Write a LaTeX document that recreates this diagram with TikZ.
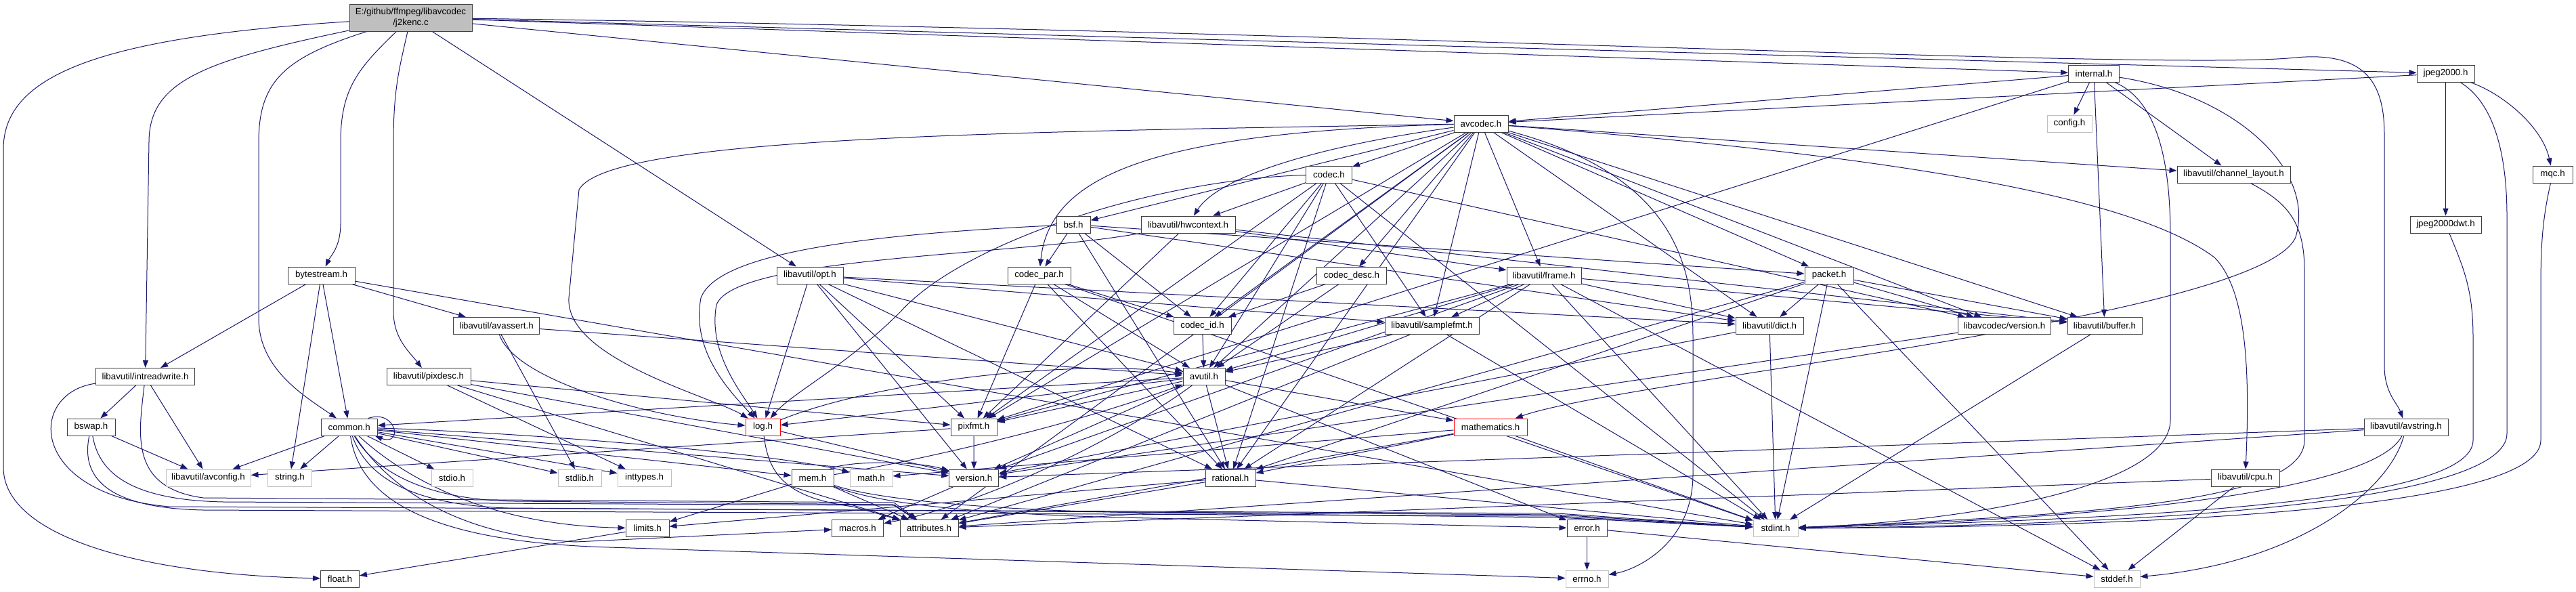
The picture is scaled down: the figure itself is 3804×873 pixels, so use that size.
\documentclass[tikz,border=0pt]{standalone}
\usepackage{fontspec}
\setmainfont{Liberation Sans}
\usetikzlibrary{arrows.meta}
\definecolor{edgeblue}{HTML}{191970}
\definecolor{boxline}{HTML}{404040}
\definecolor{graybox}{HTML}{BFBFBF}
\definecolor{rootfill}{HTML}{BFBFBF}
\newcommand{\lbl}{\fontsize{13.3pt}{15.5pt}\selectfont}
\pgfdeclarelayer{bgl}
\pgfdeclarelayer{edges}
\pgfsetlayers{bgl,edges,main}
\tikzset{
  nb/.style={rectangle, draw=boxline, line width=1pt, fill=white, minimum height=25pt, inner sep=0pt, font=\lbl, text=black},
  ng/.style={nb, draw=graybox},
  nr/.style={nb, draw=red},
  arr/.style={draw=edgeblue, line width=1pt, -{Triangle[length=11pt,width=8pt]}},
}
\begin{document}
\begin{tikzpicture}[x=1pt,y=1pt]
\useasboundingbox (0,0) rectangle (3804,-873);
\begin{pgfonlayer}{bgl}
\fill[white] (0,0) rectangle (3804,-873);
\end{pgfonlayer}
% ---------- nodes ----------
\node[nb,fill=rootfill,minimum width=181pt,minimum height=40pt,align=center] (root) at (606.5,-26) {E:/github/ffmpeg/libavcodec\\/j2kenc.c};
\node[nb,minimum width=75pt] (internal) at (3092,-108.5) {internal.h};
\node[nb,minimum width=85pt] (jp2k) at (3611.5,-108.5) {jpeg2000.h};
\node[nb,minimum width=80pt] (avcodec) at (2187,-182.5) {avcodec.h};
\node[ng,minimum width=66pt] (config) at (3056,-182.5) {config.h};
\node[nb,minimum width=68pt] (codec) at (1962.5,-257.5) {codec.h};
\node[nb,minimum width=167pt] (chlayout) at (3298.5,-257.5) {libavutil/channel\_layout.h};
\node[nb,minimum width=59pt] (mqc) at (3769.5,-257.5) {mqc.h};
\node[nb,minimum width=50pt] (bsf) at (1585,-331.5) {bsf.h};
\node[nb,minimum width=139pt] (hwctx) at (1754.5,-331.5) {libavutil/hwcontext.h};
\node[nb,minimum width=105pt] (dwt) at (3611.5,-331.5) {jpeg2000dwt.h};
\node[nb,minimum width=99pt] (bytestream) at (474.5,-406.5) {bytestream.h};
\node[nb,minimum width=98pt] (opt) at (1196,-406.5) {libavutil/opt.h};
\node[nb,minimum width=93pt] (codecpar) at (1534.5,-406.5) {codec\_par.h};
\node[nb,minimum width=103pt] (codecdesc) at (1996,-406.5) {codec\_desc.h};
\node[nb,minimum width=110pt] (frame) at (2280,-406.5) {libavutil/frame.h};
\node[nb,minimum width=72pt] (packet) at (2701,-406.5) {packet.h};
\node[nb,minimum width=127pt] (avassert) at (733,-481) {libavutil/avassert.h};
\node[nb,minimum width=85pt] (codecid) at (1775.5,-481) {codec\_id.h};
\node[nb,minimum width=139pt] (samplefmt) at (2114.5,-481) {libavutil/samplefmt.h};
\node[nb,minimum width=100pt] (dict) at (2613,-481) {libavutil/dict.h};
\node[nb,minimum width=137pt] (lavcver) at (2960,-481) {libavcodec/version.h};
\node[nb,minimum width=110pt] (buffer) at (3108,-481) {libavutil/buffer.h};
\node[nb,minimum width=146pt] (intrw) at (214.5,-556) {libavutil/intreadwrite.h};
\node[nb,minimum width=124pt] (pixdesc) at (633,-556) {libavutil/pixdesc.h};
\node[nb,minimum width=62pt] (avutil) at (1778,-556) {avutil.h};
\node[nb,minimum width=71pt] (bswap) at (134.5,-630.5) {bswap.h};
\node[nb,minimum width=83pt] (common) at (515.7,-630.5) {common.h};
\node[nr,minimum width=51pt] (log) at (1126.5,-630.5) {log.h};
\node[nb,minimum width=68pt] (pixfmt) at (1438,-630.5) {pixfmt.h};
\node[nr,minimum width=108pt] (mathem) at (2201,-630.5) {mathematics.h};
\node[nb,minimum width=124pt] (avstring) at (3553,-630.5) {libavutil/avstring.h};
\node[ng,minimum width=125pt] (avconfig) at (307.5,-705.5) {libavutil/avconfig.h};
\node[ng,minimum width=65pt] (string) at (428,-705.5) {string.h};
\node[ng,minimum width=61pt] (stdio) at (667.5,-705.5) {stdio.h};
\node[ng,minimum width=64pt] (stdlib) at (856,-705.5) {stdlib.h};
\node[ng,minimum width=79pt] (inttypes) at (951.5,-705.5) {inttypes.h};
\node[nb,minimum width=62pt] (mem) at (1200,-705.5) {mem.h};
\node[ng,minimum width=63pt] (math) at (1286.5,-705.5) {math.h};
\node[nb,minimum width=73pt] (version) at (1438.3,-705.5) {version.h};
\node[nb,minimum width=74pt] (rational) at (1817,-705.5) {rational.h};
\node[nb,minimum width=101pt] (cpu) at (3315.5,-705.5) {libavutil/cpu.h};
\node[nb,minimum width=64pt] (limits) at (956,-780) {limits.h};
\node[nb,minimum width=76pt] (macros) at (1266.5,-780) {macros.h};
\node[nb,minimum width=86pt] (attributes) at (1372,-780) {attributes.h};
\node[nb,minimum width=59pt] (error) at (2343.5,-780) {error.h};
\node[ng,minimum width=66pt] (stdint) at (2622,-780) {stdint.h};
\node[nb,minimum width=57pt] (float) at (502,-854.5) {float.h};
\node[ng,minimum width=63pt] (errno) at (2343.5,-854.5) {errno.h};
\node[ng,minimum width=68pt] (stddef) at (3126,-854.5) {stddef.h};
% ---------- edges ----------
\begin{pgfonlayer}{edges}
% root
\draw[arr] (root) .. controls (150,-55) and (5,-110) .. (5,-220) -- (5,-690) .. controls (5,-790) and (200,-848) .. (float);
\draw[arr] (root) .. controls (300,-90) and (220,-120) .. (220,-210) -- (intrw);
\draw[arr] (root) .. controls (420,-85) and (382,-120) .. (382,-210) -- (382,-470) .. controls (382,-545) and (450,-585) .. (common);
\draw[arr] (root) .. controls (530,-100) and (503,-130) .. (503,-210) -- (503,-330) .. controls (503,-365) and (488,-378) .. (bytestream);
\draw[arr] (root) .. controls (590,-100) and (581,-130) .. (581,-210) -- (581,-460) .. controls (581,-500) and (605,-520) .. (pixdesc);
\draw[arr] (root) -- (opt);
\draw[arr] (root) -- (avcodec);
\draw[arr] (root) -- (internal);
\draw[arr] (root) -- (jp2k);
\draw[arr] (root) .. controls (2000,-45) and (3200,-105) .. (3390,-85) .. controls (3500,-75) and (3521,-130) .. (3521,-200) -- (3521,-540) .. controls (3521,-580) and (3540,-595) .. (avstring);
% internal
\draw[arr] (internal) -- (avcodec);
\draw[arr] (internal) -- (config);
\draw[arr] (internal) -- (chlayout);
\draw[arr] (internal) -- (buffer);
\draw[arr] (internal) .. controls (3190,-150) and (3205,-250) .. (3205,-350) -- (3205,-620) .. controls (3205,-720) and (2900,-770) .. (stdint);
\draw[arr] (internal) .. controls (3300,-140) and (3420,-250) .. (3390,-350) .. controls (3340,-470) and (2400,-560) .. (mathem);
\draw[arr] (internal) -- (pixfmt);
% jpeg2000
\draw[arr] (jp2k) -- (avcodec);
\draw[arr] (jp2k) -- (dwt);
\draw[arr] (jp2k) .. controls (3700,-140) and (3755,-190) .. (mqc);
\draw[arr] (jp2k) .. controls (3680,-150) and (3702,-220) .. (3702,-320) -- (3702,-640) .. controls (3702,-740) and (3200,-775) .. (stdint);
\draw[arr] (dwt) .. controls (3640,-400) and (3652,-430) .. (3652,-500) -- (3652,-650) .. controls (3652,-740) and (3200,-765) .. (stdint);
\draw[arr] (mqc) .. controls (3755,-320) and (3752,-360) .. (3752,-420) -- (3752,-650) .. controls (3752,-750) and (3200,-778) .. (stdint);
\draw[arr] (chlayout) .. controls (3380,-300) and (3403,-330) .. (3403,-400) -- (3403,-650) .. controls (3403,-740) and (3100,-760) .. (stdint);
% avstring, cpu
\draw[arr] (avstring) .. controls (3530,-720) and (3400,-830) .. (stddef);
\draw[arr] (avstring) .. controls (3520,-700) and (3300,-760) .. (stdint);
\draw[arr] (avstring) -- (attributes);
\draw[arr] (avstring) -- (version);
\draw[arr] (cpu) -- (stddef);
\draw[arr] (cpu) -- (attributes);
% avcodec
\draw[arr] (avcodec) .. controls (2480,-260) and (2500,-400) .. (2500,-500) -- (2500,-700) .. controls (2500,-800) and (2420,-840) .. (errno);
\draw[arr] (avcodec) -- (samplefmt);
\draw[arr] (avcodec) -- (attributes);
\draw[arr] (avcodec) -- (avutil);
\draw[arr] (avcodec) -- (buffer);
\draw[arr] (avcodec) .. controls (2800,-230) and (3150,-290) .. (3270,-380) .. controls (3320,-430) and (3322,-560) .. (cpu);
\draw[arr] (avcodec) -- (chlayout);
\draw[arr] (avcodec) -- (dict);
\draw[arr] (avcodec) -- (frame);
\draw[arr] (avcodec) .. controls (1950,-215) and (1800,-260) .. (hwctx);
\draw[arr] (avcodec) .. controls (1500,-195) and (900,-200) .. (855,-280) -- (840,-440) .. controls (835,-530) and (1050,-585) .. (log);
\draw[arr] (avcodec) -- (pixfmt);
\draw[arr] (avcodec) -- (rational);
\draw[arr] (avcodec) -- (bsf);
\draw[arr] (avcodec) -- (codec);
\draw[arr] (avcodec) -- (codecdesc);
\draw[arr] (avcodec) .. controls (1700,-195) and (1550,-260) .. (codecpar);
\draw[arr] (avcodec) -- (codecid);
\draw[arr] (avcodec) -- (packet);
\draw[arr] (avcodec) -- (lavcver);
% bsf
\draw[arr] (bsf) -- (dict);
\draw[arr] (bsf) .. controls (1300,-345) and (1060,-370) .. (1035,-440) .. controls (1020,-520) and (1080,-580) .. (log);
\draw[arr] (bsf) -- (rational);
\draw[arr] (bsf) -- (codecid);
\draw[arr] (bsf) -- (codecpar);
\draw[arr] (bsf) -- (packet);
% codec
\draw[arr] (codec) -- (stdint);
\draw[arr] (codec) -- (avutil);
\draw[arr] (codec) -- (hwctx);
\draw[arr] (codec) .. controls (1700,-265) and (1420,-360) .. (1330,-460) .. controls (1250,-540) and (1170,-580) .. (log);
\draw[arr] (codec) -- (pixfmt);
\draw[arr] (codec) -- (rational);
\draw[arr] (codec) -- (samplefmt);
\draw[arr] (codec) -- (codecid);
\draw[arr] (codec) -- (lavcver);
% codec_desc, codec_par, codec_id
\draw[arr] (codecdesc) -- (avutil);
\draw[arr] (codecdesc) -- (codecid);
\draw[arr] (codecpar) -- (stdint);
\draw[arr] (codecpar) -- (avutil);
\draw[arr] (codecpar) -- (rational);
\draw[arr] (codecpar) -- (pixfmt);
\draw[arr] (codecpar) -- (codecid);
\draw[arr] (codecid) -- (avutil);
% packet
\draw[arr] (packet) -- (stddef);
\draw[arr] (packet) -- (stdint);
\draw[arr] (packet) -- (attributes);
\draw[arr] (packet) -- (buffer);
\draw[arr] (packet) -- (dict);
\draw[arr] (packet) -- (rational);
\draw[arr] (packet) -- (lavcver);
% frame
\draw[arr] (frame) -- (stddef);
\draw[arr] (frame) -- (stdint);
\draw[arr] (frame) -- (avutil);
\draw[arr] (frame) -- (buffer);
\draw[arr] (frame) -- (dict);
\draw[arr] (frame) -- (rational);
\draw[arr] (frame) -- (samplefmt);
\draw[arr] (frame) -- (pixfmt);
\draw[arr] (frame) -- (version);
% hwcontext
\draw[arr] (hwctx) -- (buffer);
\draw[arr] (hwctx) -- (frame);
\draw[arr] (hwctx) .. controls (1500,-378) and (1085,-378) .. (1058,-450) .. controls (1045,-520) and (1095,-580) .. (log);
\draw[arr] (hwctx) -- (pixfmt);
% samplefmt, dict, buffer, lavc version
\draw[arr] (samplefmt) -- (stdint);
\draw[arr] (samplefmt) -- (avutil);
\draw[arr] (samplefmt) -- (attributes);
\draw[arr] (dict) -- (stdint);
\draw[arr] (dict) -- (version);
\draw[arr] (buffer) -- (stdint);
\draw[arr] (lavcver) -- (version);
% opt
\draw[arr] (opt) -- (rational);
\draw[arr] (opt) -- (avutil);
\draw[arr] (opt) -- (dict);
\draw[arr] (opt) -- (log);
\draw[arr] (opt) -- (pixfmt);
\draw[arr] (opt) -- (samplefmt);
\draw[arr] (opt) -- (version);
% avassert, pixdesc
\draw[arr] (avassert) -- (stdlib);
\draw[arr] (avassert) -- (avutil);
\draw[arr] (avassert) .. controls (760,-560) and (950,-615) .. (log);
\draw[arr] (pixdesc) -- (inttypes);
\draw[arr] (pixdesc) -- (attributes);
\draw[arr] (pixdesc) -- (pixfmt);
\draw[arr] (pixdesc) -- (version);
% intreadwrite, bswap
\draw[arr] (intrw) -- (bswap);
\draw[arr] (intrw) -- (avconfig);
\draw[arr] (intrw) .. controls (205,-640) and (190,-720) .. (300,-735) -- (1320,-742) -- (attributes);
\draw[arr] (intrw) .. controls (40,-580) and (40,-730) .. (250,-748) -- (2300,-758) -- (stdint);
\draw[arr] (bswap) -- (avconfig);
\draw[arr] (bswap) .. controls (145,-690) and (180,-738) .. (330,-741) -- (1320,-746) -- (attributes);
\draw[arr] (bswap) .. controls (120,-700) and (150,-750) .. (300,-753) -- (2300,-762) -- (stdint);
% bytestream
\draw[arr] (bytestream) -- (intrw);
\draw[arr] (bytestream) -- (common);
\draw[arr] (bytestream) -- (string);
\draw[arr] (bytestream) -- (avassert);
\draw[arr] (bytestream) -- (stdint);
% common
\draw[arr] ([xshift=-14pt]common.north east) .. controls +(42,14) and +(42,-16) .. ([xshift=-4pt]common.south east);
\draw[arr] (common) -- (avconfig);
\draw[arr] (common) -- (string);
\draw[arr] (common) -- (stdio);
\draw[arr] (common) -- (stdlib);
\draw[arr] (common) -- (inttypes);
\draw[arr] (common) -- (mem);
\draw[arr] (common) .. controls (800,-640) and (1150,-670) .. (math);
\draw[arr] (common) -- (version);
\draw[arr] (common) .. controls (580,-690) and (700,-775) .. (limits);
\draw[arr] (common) .. controls (560,-700) and (650,-790) .. (850,-800) -- (macros);
\draw[arr] (common) .. controls (550,-690) and (620,-738) .. (760,-740) -- (1320,-745) -- (attributes);
\draw[arr] (common) .. controls (530,-730) and (620,-800) .. (900,-808) -- (errno);
\draw[arr] (common) .. controls (540,-700) and (600,-745) .. (750,-750) -- (2300,-760) -- (stdint);
% avutil
\draw[arr] (avutil) -- (common);
\draw[arr] (avutil) -- (error);
\draw[arr] (avutil) -- (rational);
\draw[arr] (avutil) -- (version);
\draw[arr] (avutil) .. controls (1650,-650) and (1450,-745) .. (macros);
\draw[arr] (avutil) -- (mathem);
\draw[arr] (avutil) -- (log);
\draw[arr] (avutil) -- (pixfmt);
% pixfmt, log
\draw[arr] (pixfmt) -- (avconfig);
\draw[arr] (pixfmt) -- (version);
\draw[arr] (log) .. controls (1300,-560) and (1600,-530) .. (avutil);
\draw[arr] (log) .. controls (1135,-700) and (1160,-735) .. (1260,-748) -- (attributes);
\draw[arr] (log) -- (version);
% mem
\draw[arr] (mem) -- (limits);
\draw[arr] (mem) .. controls (1300,-740) and (1500,-755) .. (1700,-757) -- (2300,-764) -- (stdint);
\draw[arr] (mem) -- (attributes);
\draw[arr] (mem) .. controls (1300,-745) and (1450,-760) .. (1700,-765) -- (error);
\draw[arr] (mem) .. controls (1300,-690) and (1550,-640) .. (avutil);
\draw[arr] (mem) .. controls (1250,-680) and (1350,-680) .. (version);
% mathematics
\draw[arr] (mathem) -- (math);
\draw[arr] (mathem) -- (stdint);
\draw[arr] (mathem) -- (attributes);
\draw[arr] (mathem) -- (rational);
% rational, error, version, limits
\draw[arr] (rational) -- (stdint);
\draw[arr] (rational) -- (limits);
\draw[arr] (rational) -- (attributes);
\draw[arr] (error) -- (errno);
\draw[arr] (error) -- (stddef);
\draw[arr] (version) -- (macros);
\draw[arr] (limits) -- (float);
\end{pgfonlayer}
\end{tikzpicture}
\end{document}
